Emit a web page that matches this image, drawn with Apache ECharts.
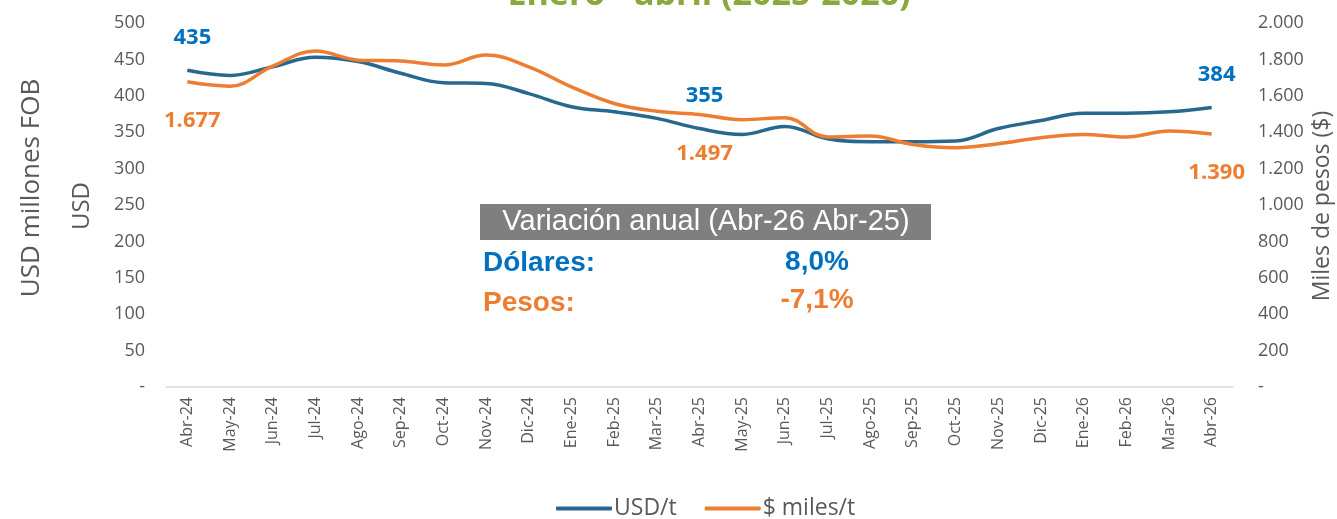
<!DOCTYPE html>
<html>
<head>
<meta charset="utf-8">
<script src="https://cdn.jsdelivr.net/npm/echarts@6/dist/echarts.min.js"></script>
<style>
  html, body { margin: 0; padding: 0; background: #ffffff; }
  #myChart { width: 1337px; height: 519px; }
</style>
</head>
<body>
<div id="myChart"></div>
<script>
// meses
var months = ['Abr-24', 'May-24', 'Jun-24', 'Jul-24', 'Ago-24', 'Sep-24', 'Oct-24', 'Nov-24', 'Dic-24',
  'Ene-25', 'Feb-25', 'Mar-25', 'Abr-25', 'May-25', 'Jun-25', 'Jul-25', 'Ago-25', 'Sep-25', 'Oct-25',
  'Nov-25', 'Dic-25', 'Ene-26', 'Feb-26', 'Mar-26', 'Abr-26'];
// USD/t
var usd = [435, 428, 440, 453, 447, 431, 418, 417, 403, 385, 378, 369, 355, 347, 358, 341, 337, 337,
  338, 355, 366, 376, 376, 378, 384];
// $ miles/t
var pesos = [1677, 1653, 1763, 1846, 1796, 1791, 1769, 1824, 1759, 1649, 1558, 1515, 1497, 1469, 1480,
  1374, 1379, 1333, 1315, 1337, 1370, 1388, 1374, 1407, 1390];
// meses con etiqueta
var labelIdx = [0, 12, 24];
var leftTicks = { min: 0, max: 500, interval: 50 };
var rightTicks = { min: 0, max: 2000, interval: 200 };

var gris = '#595959';
var font = 'Open Sans';

function miles(v) {
  if (v === 0) return '-';
  return String(v).replace(/\B(?=(\d{3})+(?!\d))/g, '.');
}

function withLabels(arr, color, pos, dist, fmt) {
  return arr.map(function (v, i) {
    if (labelIdx.indexOf(i) < 0) return v;
    return {
      value: v,
      label: {
        show: true, position: pos, distance: dist, offset: [5, 0],
        color: color, fontSize: 22, fontWeight: 'bold', fontFamily: font,
        formatter: function (p) { return fmt(p.value); }
      }
    };
  });
}

var myChart = echarts.init(document.getElementById('myChart'));
var option = {
  animation: false,
  backgroundColor: '#ffffff',
  grid: { left: 166, right: 104, top: 23, bottom: 132 },
  legend: {
    top: 492, left: 551, itemGap: 28, itemWidth: 56, itemHeight: 4, icon: 'roundRect',
    textStyle: { color: gris, fontSize: 23, fontFamily: font, padding: [0, 0, 0, -3] },
    data: ['USD/t', '$ miles/t']
  },
  graphic: [
    {
      type: 'text', x: 709, y: -22,
      style: { text: 'Enero - abril (2025-2026)', fill: '#8AA83E', font: 'bold 34px "Open Sans"', align: 'center' }
    },
    {
      type: 'text', x: 32, y: 188, rotation: Math.PI / 2,
      style: { text: 'USD millones FOB', fill: gris, font: '26px "Open Sans"', align: 'center', verticalAlign: 'middle' }
    },
    {
      type: 'text', x: 82, y: 206, rotation: Math.PI / 2,
      style: { text: 'USD', fill: gris, font: '24px "Open Sans"', align: 'center', verticalAlign: 'middle' }
    },
    {
      type: 'text', x: 1322, y: 206, rotation: Math.PI / 2,
      style: { text: 'Miles de pesos ($)', fill: gris, font: '23px "Open Sans"', align: 'center', verticalAlign: 'middle' }
    },
    {
      type: 'rect', shape: { x: 480, y: 204, width: 451, height: 36 },
      style: { fill: '#7F7F7F' }
    },
    {
      type: 'text', x: 706, y: 222,
      style: { text: 'Variación anual (Abr-26 Abr-25)', fill: '#ffffff', font: '29px "Liberation Sans"', align: 'center', verticalAlign: 'middle' }
    },
    {
      type: 'text', x: 483, y: 263,
      style: { text: 'Dólares:', fill: '#0070C0', font: 'bold 28px "Liberation Sans"', align: 'left', verticalAlign: 'middle' }
    },
    {
      type: 'text', x: 817, y: 262,
      style: { text: '8,0%', fill: '#0070C0', font: 'bold 28px "Liberation Sans"', align: 'center', verticalAlign: 'middle' }
    },
    {
      type: 'text', x: 483, y: 303,
      style: { text: 'Pesos:', fill: '#ED7D31', font: 'bold 28px "Liberation Sans"', align: 'left', verticalAlign: 'middle' }
    },
    {
      type: 'text', x: 817, y: 300,
      style: { text: '-7,1%', fill: '#ED7D31', font: 'bold 28px "Liberation Sans"', align: 'center', verticalAlign: 'middle' }
    }
  ],
  xAxis: {
    type: 'category',
    data: months,
    boundaryGap: true,
    axisLine: { lineStyle: { color: '#D9D9D9', width: 1.5 } },
    axisTick: { show: false },
    axisLabel: { rotate: 90, color: gris, fontSize: 16, fontFamily: font, margin: 10, interval: 0 }
  },
  yAxis: [
    {
      type: 'value', min: leftTicks.min, max: leftTicks.max, interval: leftTicks.interval,
      splitLine: { show: false }, axisLine: { show: false }, axisTick: { show: false },
      axisLabel: { color: gris, fontSize: 18, fontFamily: font, margin: 21, formatter: miles }
    },
    {
      type: 'value', min: rightTicks.min, max: rightTicks.max, interval: rightTicks.interval,
      splitLine: { show: false }, axisLine: { show: false }, axisTick: { show: false },
      axisLabel: { color: gris, fontSize: 18, fontFamily: font, margin: 25, formatter: miles }
    }
  ],
  series: [
    {
      name: 'USD/t', type: 'line', yAxisIndex: 0, smooth: 0.4,
      symbol: 'circle', symbolSize: 0, showSymbol: true,
      itemStyle: { color: '#26688F' },
      lineStyle: { color: '#26688F', width: 3.5 },
      data: withLabels(usd, '#0070C0', 'top', 22, function (v) { return String(v); })
    },
    {
      name: '$ miles/t', type: 'line', yAxisIndex: 1, smooth: 0.4,
      symbol: 'circle', symbolSize: 0, showSymbol: true,
      itemStyle: { color: '#ED7D31' },
      lineStyle: { color: '#ED7D31', width: 3.5 },
      data: withLabels(pesos, '#ED7D31', 'bottom', 28, miles)
    }
  ]
};
option && myChart.setOption(option);
</script>
</body>
</html>
